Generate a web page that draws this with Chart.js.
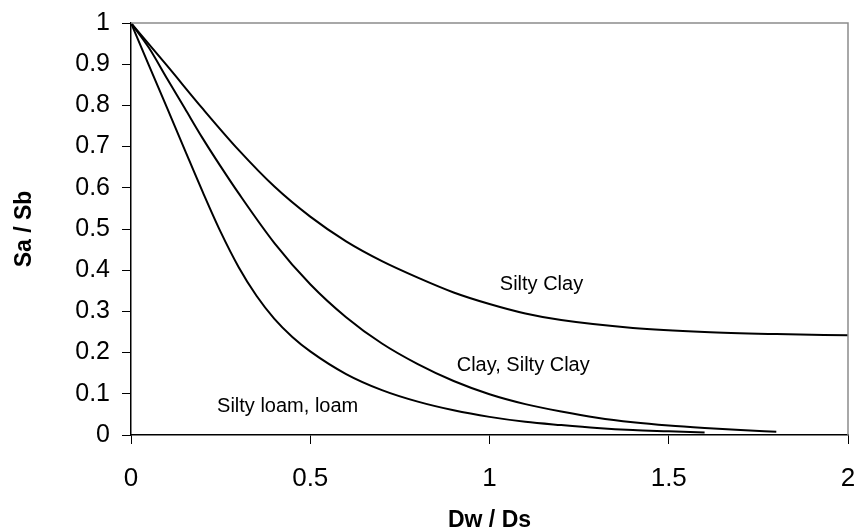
<!DOCTYPE html>
<html>
<head>
<meta charset="utf-8">
<script src="https://cdn.jsdelivr.net/npm/chart.js@4.4.1/dist/chart.umd.min.js"></script>
<style>
  html, body { margin: 0; padding: 0; background: #fff; }
  #wrap { width: 857px; height: 529px; }
</style>
</head>
<body>
<div id="wrap"><canvas id="SaturationRatio"></canvas></div>
<script>
// Sa / Sb against Dw / Ds for three soil groups
var siltyClayX = [0, 0.1, 0.2, 0.3, 0.4, 0.5, 0.6, 0.7, 0.8, 0.9, 1.0, 1.1, 1.2, 1.4, 1.6, 1.8, 2.0];
var siltyClayY = [1, 0.897, 0.792, 0.692, 0.603, 0.53, 0.47, 0.422, 0.382, 0.346, 0.318, 0.295, 0.279, 0.26, 0.25, 0.245, 0.242];

var claySiltyClayX = [0, 0.05, 0.1, 0.15, 0.2, 0.25, 0.3, 0.4, 0.5, 0.6, 0.7, 0.8, 0.9, 1.0, 1.1, 1.2, 1.3, 1.4, 1.5, 1.6, 1.7, 1.8];
var claySiltyClayY = [1, 0.94, 0.866, 0.793, 0.72, 0.652, 0.587, 0.466, 0.366, 0.286, 0.222, 0.172, 0.131, 0.099, 0.075, 0.057, 0.042, 0.031, 0.023, 0.017, 0.012, 0.008];

var siltyLoamX = [0, 0.05, 0.1, 0.15, 0.2, 0.25, 0.3, 0.35, 0.4, 0.45, 0.5, 0.6, 0.7, 0.8, 0.9, 1.0, 1.1, 1.2, 1.3, 1.4, 1.5, 1.6];
var siltyLoamY = [1, 0.897, 0.795, 0.692, 0.59, 0.493, 0.408, 0.338, 0.282, 0.238, 0.203, 0.148, 0.109, 0.081, 0.06, 0.044, 0.032, 0.024, 0.017, 0.012, 0.009, 0.006];

var xTickLabels = ['0', '0.5', '1', '1.5', '2'];
var yTickLabels = ['0', '0.1', '0.2', '0.3', '0.4', '0.5', '0.6', '0.7', '0.8', '0.9', '1'];

// text written next to each curve, in data units
var curveLabels = [
    { text: 'Silty Clay', x: 1.145, y: 0.365 },
    { text: 'Clay, Silty Clay', x: 1.094, y: 0.168 },
    { text: 'Silty loam, loam', x: 0.437, y: 0.069 }
];

function toPoints(xs, ys) {
    var pts = [];
    for (let i = 0; i < xs.length; i++) {
        pts.push({ x: xs[i], y: ys[i] });
    }
    return pts;
}

var FONT = "'Liberation Sans', Arial, sans-serif";

function curve(label, xs, ys) {
    return {
        label: label,
        data: toPoints(xs, ys),
        showLine: true,
        borderColor: '#000',
        borderWidth: 2,
        pointRadius: 0,
        cubicInterpolationMode: 'monotone',
        fill: false
    };
}

// gray frame on top/right plus the curve captions
var framePlugin = {
    id: 'frameAndLabels',
    afterDraw: function (chart) {
        var ctx = chart.ctx;
        var a = chart.chartArea;
        ctx.save();
        ctx.strokeStyle = '#8c8c8c';
        ctx.lineWidth = 1.5;
        ctx.beginPath();
        ctx.moveTo(a.left, a.top);
        ctx.lineTo(a.right, a.top);
        ctx.lineTo(a.right, a.bottom);
        ctx.stroke();

        ctx.fillStyle = '#000';
        ctx.font = '20px ' + FONT;
        ctx.textAlign = 'center';
        ctx.textBaseline = 'middle';
        var xs = chart.scales.x, ys = chart.scales.y;
        curveLabels.forEach(function (l) {
            ctx.fillText(l.text, xs.getPixelForValue(l.x), ys.getPixelForValue(l.y));
        });
        ctx.restore();
    }
};

$ready = function () {
    var ctx = document.getElementById('SaturationRatio');

    var chart = new Chart(ctx, {
        type: 'scatter',
        plugins: [framePlugin],
        data: {
            datasets: [
                curve('Silty Clay', siltyClayX, siltyClayY),
                curve('Clay, Silty Clay', claySiltyClayX, claySiltyClayY),
                curve('Silty loam, loam', siltyLoamX, siltyLoamY)
            ]
        },
        options: {
            responsive: true,
            maintainAspectRatio: false,
            animation: false,
            layout: {
                padding: { top: 23, right: 9, left: 0, bottom: 0 }
            },
            plugins: {
                legend: { display: false },
                tooltip: { enabled: false }
            },
            scales: {
                x: {
                    type: 'linear',
                    min: 0,
                    max: 2,
                    // fixed axis height, and no extra room for the end labels
                    afterFit: function (scale) {
                        scale.height = 94;
                        scale.paddingLeft = 0;
                        scale.paddingRight = 0;
                    },
                    ticks: {
                        stepSize: 0.5,
                        padding: 19,
                        color: '#000',
                        font: { family: FONT, size: 26 },
                        callback: function (value) {
                            return xTickLabels[Math.round(value * 2)];
                        }
                    },
                    grid: {
                        drawOnChartArea: false,
                        tickLength: 9,
                        color: '#000',
                        lineWidth: 1
                    },
                    border: { color: '#000', width: 1.5 },
                    title: {
                        display: true,
                        text: 'Dw / Ds',
                        color: '#000',
                        font: { family: FONT, size: 23, weight: 'bold', lineHeight: 0.75 },
                        padding: { top: 0, bottom: 0 }
                    }
                },
                y: {
                    min: 0,
                    max: 1,
                    afterFit: function (scale) {
                        scale.width = 131;
                        scale.paddingTop = 0;
                        scale.paddingBottom = 0;
                    },
                    ticks: {
                        stepSize: 0.1,
                        padding: 12,
                        color: '#000',
                        font: { family: FONT, size: 25 },
                        callback: function (value) {
                            return yTickLabels[Math.round(value * 10)];
                        }
                    },
                    grid: {
                        drawOnChartArea: false,
                        tickLength: 9,
                        color: '#000',
                        lineWidth: 1
                    },
                    border: { color: '#000', width: 1.5 },
                    title: {
                        display: true,
                        text: 'Sa / Sb',
                        color: '#000',
                        font: { family: FONT, size: 23, weight: 'bold', lineHeight: 1 },
                        padding: { top: 13, bottom: 0 }
                    }
                }
            }
        }
    });
};
$ready();
</script>
</body>
</html>
